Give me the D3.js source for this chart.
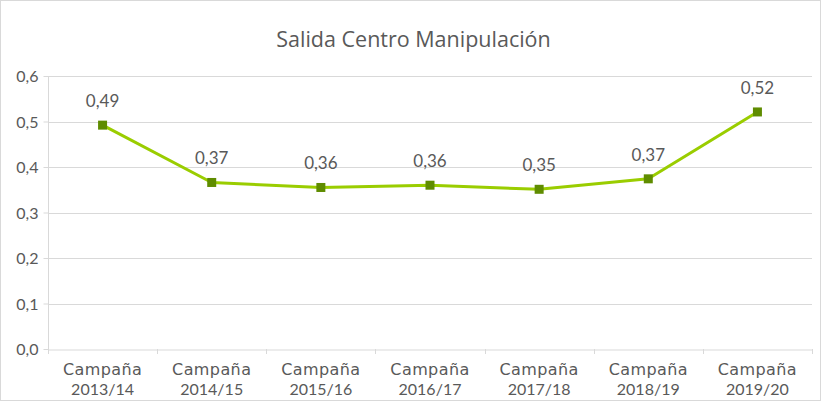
<!DOCTYPE html>
<html lang="es">
<head>
    <meta charset="UTF-8">
    <title>Salida Centro Manipulación</title>
    <script src="https://d3js.org/d3.v7.min.js"></script>
    <style>
        body { margin: 0; background: white; }
        text { fill: #595959; }
        .title { font-family: 'Open Sans', 'Noto Sans', sans-serif; font-size: 21.5px; }
        .tick text, .label { font-family: 'Lato', 'DejaVu Sans', sans-serif; font-size: 16px; }
        .word { font-family: 'DejaVu Sans', sans-serif; font-size: 16px; letter-spacing: .4px; }
    </style>
</head>
<body>
<script>
    const width = 821;
    const height = 401;
    const margin = {top: 76, right: 9, bottom: 52, left: 48};

    const campaigns = ['2013/14', '2014/15', '2015/16', '2016/17', '2017/18', '2018/19', '2019/20'];
    const values = [0.492, 0.366, 0.355, 0.360, 0.351, 0.374, 0.521];
    const labels = ['0,49', '0,37', '0,36', '0,36', '0,35', '0,37', '0,52'];
    const yTicks = [0, 0.1, 0.2, 0.3, 0.4, 0.5, 0.6];

    const svg = d3.select("body").append("svg").attr("width", width).attr("height", height);

    svg.append("rect")
        .attr("x", .5).attr("y", .5)
        .attr("width", width - 1).attr("height", height - 1)
        .style("fill", "white").style("stroke", "#d9d9d9");

    const x = d3.scaleBand().domain(campaigns).range([margin.left, width - margin.right]);
    const y = d3.scaleLinear().domain([0, 0.6]).range([height - margin.bottom, margin.top]);

    svg.append("text").attr("class", "title")
        .attr("x", width / 2 + 3).attr("y", 47)
        .attr("text-anchor", "middle")
        .text("Salida Centro Manipulación");

    // grid
    svg.append("g").selectAll("line")
        .data(yTicks.slice(1)).enter()
        .append("line")
        .attr("x1", margin.left).attr("x2", width - margin.right)
        .attr("y1", d => Math.round(y(d)) + .5).attr("y2", d => Math.round(y(d)) + .5)
        .style("stroke", "#d9d9d9");

    const yAxis = svg.append("g")
        .attr("transform", `translate(${margin.left + .5},0)`)
        .call(d3.axisLeft(y).tickValues(yTicks).tickSize(5).tickPadding(5)
            .tickFormat(d => d3.format(".1f")(d).replace(".", ",")));
    yAxis.select(".domain").style("stroke", "#d9d9d9").attr("d", `M0,${y(0.6)}V${y(0)}`);
    yAxis.selectAll(".tick line").style("stroke", "#d9d9d9");
    yAxis.selectAll(".tick text").attr("dy", "0.35em").style("font-size", "16px");

    const xAxis = svg.append("g")
        .attr("transform", `translate(0,${Math.round(y(0)) + .5})`)
        .call(d3.axisBottom(x).tickSize(0).tickFormat(""));
    xAxis.select(".domain").style("stroke", "#d9d9d9");

    // tick marks at band edges
    svg.append("g").selectAll("line")
        .data(campaigns.concat(["end"])).enter()
        .append("line")
        .attr("x1", (d, i) => Math.round(margin.left + i * x.step()) + .5)
        .attr("x2", (d, i) => Math.round(margin.left + i * x.step()) + .5)
        .attr("y1", y(0)).attr("y2", y(0) + 5)
        .style("stroke", "#d9d9d9");

    const cx = d => x(d) + x.bandwidth() / 2;
    const cat = svg.append("g").selectAll("text")
        .data(campaigns).enter()
        .append("text").attr("class", "label")
        .attr("text-anchor", "middle");
    cat.append("tspan").attr("class", "word").attr("x", cx).attr("y", 375).text("Campaña");
    cat.append("tspan").attr("x", cx).attr("y", 395).text(d => d);

    const line = d3.line()
        .x((d, i) => cx(campaigns[i]))
        .y(d => y(d));

    svg.append("path")
        .datum(values)
        .attr("d", line)
        .style("fill", "none")
        .style("stroke", "#9acd00")
        .style("stroke-width", 3)
        .style("stroke-linejoin", "round");

    svg.append("g").selectAll("rect")
        .data(values).enter()
        .append("rect")
        .attr("x", (d, i) => cx(campaigns[i]) - 4.5)
        .attr("y", d => y(d) - 4.5)
        .attr("width", 9).attr("height", 9)
        .style("fill", "#5f8c00");

    svg.append("g").selectAll("text")
        .data(values).enter()
        .append("text").attr("class", "label")
        .attr("text-anchor", "middle")
        .attr("x", (d, i) => cx(campaigns[i]))
        .attr("y", d => y(d) - 18)
        .style("font-size", "17px")
        .text((d, i) => labels[i]);
</script>
</body>
</html>
